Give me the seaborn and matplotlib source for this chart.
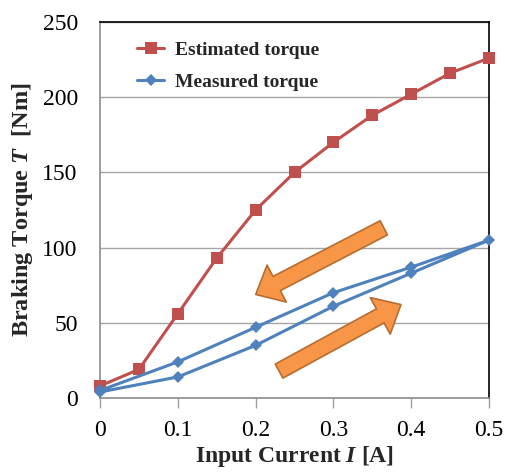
import matplotlib
matplotlib.use("Agg")
import matplotlib.pyplot as plt
import seaborn as sns
import pandas as pd

# data
est_current = [0, 0.05, 0.1, 0.15, 0.2, 0.25, 0.3, 0.35, 0.4, 0.45, 0.5]
est_torque = [8, 19, 56, 93, 125, 150, 170, 188, 202, 216, 226]

# measured: rising then falling current (hysteresis loop)
meas_current = [0, 0.1, 0.2, 0.3, 0.4, 0.5, 0.4, 0.3, 0.2, 0.1, 0]
meas_torque = [4, 14, 35, 61, 83, 105, 87, 70, 47, 24, 5]

x_ticks = [0, 0.1, 0.2, 0.3, 0.4, 0.5]
x_tick_labels = ["0", "0.1", "0.2", "0.3", "0.4", "0.5"]
y_ticks = [0, 50, 100, 150, 200, 250]

sns.set_theme(style="white")
plt.rcParams["font.family"] = ["Liberation Serif", "DejaVu Serif"]
plt.rcParams["mathtext.fontset"] = "custom"
plt.rcParams["mathtext.it"] = "Liberation Serif:italic:bold"
plt.rcParams["mathtext.rm"] = "Liberation Serif:bold"

est = pd.DataFrame({"I": est_current, "T": est_torque})
meas = pd.DataFrame({"I": meas_current, "T": meas_torque})

fig = plt.figure(figsize=(5.05, 4.73), dpi=100)
ax = fig.add_axes([100 / 505, 75 / 473, 389 / 505, 376 / 473])

red = "#c0504d"
blue = "#4f81bd"

sns.lineplot(data=est, x="I", y="T", ax=ax, color=red, lw=2.2, marker="s",
             markersize=8, markeredgewidth=0, label="Estimated torque",
             clip_on=False, zorder=4)
sns.lineplot(data=meas, x="I", y="T", ax=ax, color=blue, lw=2.2, marker="D",
             markersize=6.5, markeredgewidth=0, label="Measured torque",
             sort=False, estimator=None, clip_on=False, zorder=4)

ax.set_xlim(0, 0.5)
ax.set_ylim(0, 250)
ax.set_xticks(x_ticks)
ax.set_xticklabels(x_tick_labels)
ax.set_yticks(y_ticks)
ax.tick_params(axis="both", labelsize=17, colors="black")
ax.tick_params(axis="x", bottom=True, length=7, width=1, color="#a0a0a0", pad=9)
ax.tick_params(axis="y", left=False, pad=10)

ax.grid(axis="y", color="#a6a6a6", lw=1)
ax.set_axisbelow(True)
for side in ("left", "bottom"):
    ax.spines[side].set_color("#8c8c8c")
    ax.spines[side].set_linewidth(1.2)
for side in ("top", "right"):
    ax.spines[side].set_color("black")
    ax.spines[side].set_linewidth(1.2)

ax.set_xlabel("Input Current $I$ [A]", fontsize=17, fontweight="bold", labelpad=2)
ax.set_ylabel("Braking Torque $T$  [Nm]", fontsize=17.5, fontweight="bold", labelpad=5)

leg = ax.legend(loc="upper left", bbox_to_anchor=(0.05, 0.995), frameon=False,
                prop={"size": 14, "weight": "bold"}, handlelength=1.4,
                labelspacing=0.75, handletextpad=0.55)

# hysteresis direction arrows
arrow_kw = dict(arrowstyle="simple,head_length=1.7,head_width=3.0,tail_width=1.15",
                fc="#f79646", ec="#b66d31", lw=1.2, mutation_scale=10)
ax.annotate("", xy=(0.197, 68), xytext=(0.368, 114), arrowprops=arrow_kw, zorder=3)
ax.annotate("", xy=(0.39, 63), xytext=(0.227, 17), arrowprops=arrow_kw, zorder=3)

fig.savefig("out.png", dpi=100)
